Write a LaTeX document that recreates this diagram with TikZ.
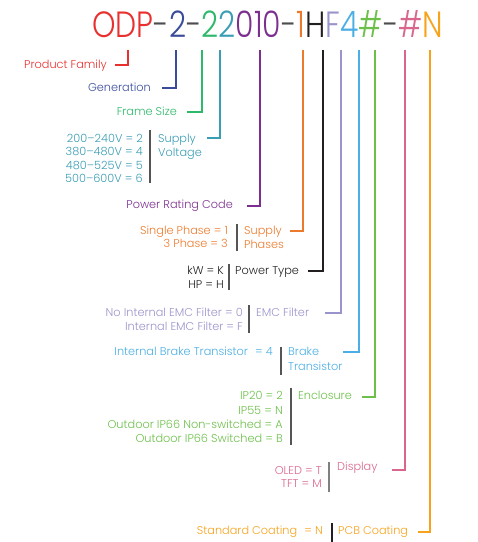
\documentclass[tikz,border=0pt]{standalone}
\usepackage{fontspec}
\setmainfont{Poppins}[UprightFont=* Light]
\usepackage{graphicx}
\definecolor{cRed}{HTML}{E8302F}
\definecolor{cBlue}{HTML}{3A4B9A}
\definecolor{cGreen}{HTML}{2EB86A}
\definecolor{cTeal}{HTML}{3B9DB4}
\definecolor{cPurple}{HTML}{7C2F8F}
\definecolor{cOrange}{HTML}{EC7A2C}
\definecolor{cBlack}{HTML}{231F20}
\definecolor{cLav}{HTML}{9A94CC}
\definecolor{cLBlue}{HTML}{4BAEE4}
\definecolor{cGreenB}{HTML}{6CC04A}
\definecolor{cPink}{HTML}{D9668C}
\definecolor{cGold}{HTML}{F7A21B}
\definecolor{cDash}{HTML}{4D4D4F}
\definecolor{sepgray}{HTML}{555555}
\begin{document}
\begin{tikzpicture}[x=1pt,y=-1pt,
  conn/.style={line width=2pt},
  sep/.style={line width=1.2pt, draw=sepgray},
  txt/.style={inner sep=0pt, font=\fontsize{11.3}{13}\selectfont, text height=8pt, text depth=2pt},
  val/.style={txt, anchor=east},
  lab/.style={txt, anchor=west}]
\useasboundingbox (0,0) rectangle (478,542);
% title
\node[anchor=base west, inner sep=0pt] (title) at (92,37) {\resizebox{351pt}{27pt}{\fontsize{40}{40}\selectfont\textcolor{cRed}{ODP}\textcolor{cDash}{-}\textcolor{cBlue}{2}\textcolor{cDash}{-}\textcolor{cGreen}{2}\textcolor{cTeal}{2}\textcolor{cPurple}{010}\textcolor{cDash}{-}\textcolor{cOrange}{1}\textcolor{cBlack}{H}\textcolor{cLav}{F}\textcolor{cLBlue}{4}\textcolor{cGreenB}{\#}\textcolor{cDash}{-}\textcolor{cPink}{\#}\textcolor{cGold}{N}}};
% labels
\node[val, text=cRed] (pf) at (107,65) {Product Family};
\node[val, text=cBlue] (gen) at (151,88) {Generation};
\node[val, text=cGreen] (fs) at (177,112) {Frame Size};
\node[val, text=cTeal] (sv1) at (143,139) {200–240V = 2};
\node[val, text=cTeal] (sv2) at (143,152) {380–480V = 4};
\node[val, text=cTeal] (sv3) at (143,166) {480–525V = 5};
\node[val, text=cTeal] (sv4) at (143,179) {500–600V = 6};
\node[lab, text=cTeal] (svl1) at (158,139) {Supply};
\node[lab, text=cTeal] (svl2) at (158,153) {Voltage};
\draw[sep] (150,130) -- (150,183);
\node[val, text=cPurple] (prc) at (233,205) {Power Rating Code};
\node[val, text=cOrange] (sp1) at (228,231) {Single Phase = 1};
\node[val, text=cOrange] (sp2) at (228,244) {3 Phase = 3};
\node[lab, text=cOrange] (spl1) at (244,231) {Supply};
\node[lab, text=cOrange] (spl2) at (244,245) {Phases};
\draw[sep] (237,224) -- (237,251);
\node[val, text=cBlack] (pt1) at (224,271) {kW = K};
\node[val, text=cBlack] (pt2) at (224,285) {HP = H};
\node[lab, text=cBlack] (ptl) at (235,271) {Power Type};
\draw[sep] (229,264) -- (229,290);
\node[val, text=cLav] (emc1) at (243,313) {No Internal EMC Filter = 0};
\node[val, text=cLav] (emc2) at (243,327) {Internal EMC Filter = F};
\node[lab, text=cLav] (emcl) at (256,313) {EMC Filter};
\draw[sep] (249,305) -- (249,333);
\node[val, text=cLBlue] (bt1) at (273,352) {Internal Brake Transistor\hspace{4pt} = 4};
\node[lab, text=cLBlue] (btl1) at (288,352) {Brake};
\node[lab, text=cLBlue] (btl2) at (288,367) {Transistor};
\draw[sep] (281,347) -- (281,375);
\node[val, text=cGreenB] (en1) at (283,396) {IP20 = 2};
\node[val, text=cGreenB] (en2) at (283,411) {IP55 = N};
\node[val, text=cGreenB] (en3) at (283,425) {Outdoor IP66 Non-switched = A};
\node[val, text=cGreenB] (en4) at (283,439) {Outdoor IP66 Switched = B};
\node[lab, text=cGreenB] (enl) at (298,396) {Enclosure};
\draw[sep] (291,388) -- (291,445);
\node[val, text=cPink] (d1) at (322,471) {OLED = T};
\node[val, text=cPink] (d2) at (322,484) {TFT = M};
\node[lab, text=cPink] (dl) at (337,467) {Display};
\draw[sep, draw=gray] (329,462) -- (329,492);
\node[val, text=cGold] (pc1) at (323,531) {Standard Coating\hspace{4pt} = N};
\node[lab, text=cGold] (pcl) at (338,531) {PCB Coating};
\draw[sep, draw=cBlack] (332,523) -- (332,542);
% connector coordinates
\foreach \n/\x/\y/\e in {r/128/65/115, b/176/88/162, g/202/112/187, t/220/138/207, p/260/206/247, o/303/231/290, k/323/271/308, l/341/313/325, lb/359/352/343, gb/375/397/362, pk/405/470/392, gd/430/532/418}{
  \coordinate (\n-top) at (\x,50);
  \coordinate (\n-end) at (\e,\y);
}
\draw[conn, cRed] (r-top) |- (r-end);
\draw[conn, cBlue] (b-top) |- (b-end);
\draw[conn, cGreen] (g-top) |- (g-end);
\draw[conn, cTeal] (t-top) |- (t-end);
\draw[conn, cPurple] (p-top) |- (p-end);
\draw[conn, cOrange] (o-top) |- (o-end);
\draw[conn, cBlack] (k-top) |- (k-end);
\draw[conn, cLav] (l-top) |- (l-end);
\draw[conn, cLBlue] (lb-top) |- (lb-end);
\draw[conn, cGreenB] (gb-top) |- (gb-end);
\draw[conn, cPink] (pk-top) |- (pk-end);
\draw[conn, cGold] (gd-top) |- (gd-end);
\end{tikzpicture}
\end{document}
